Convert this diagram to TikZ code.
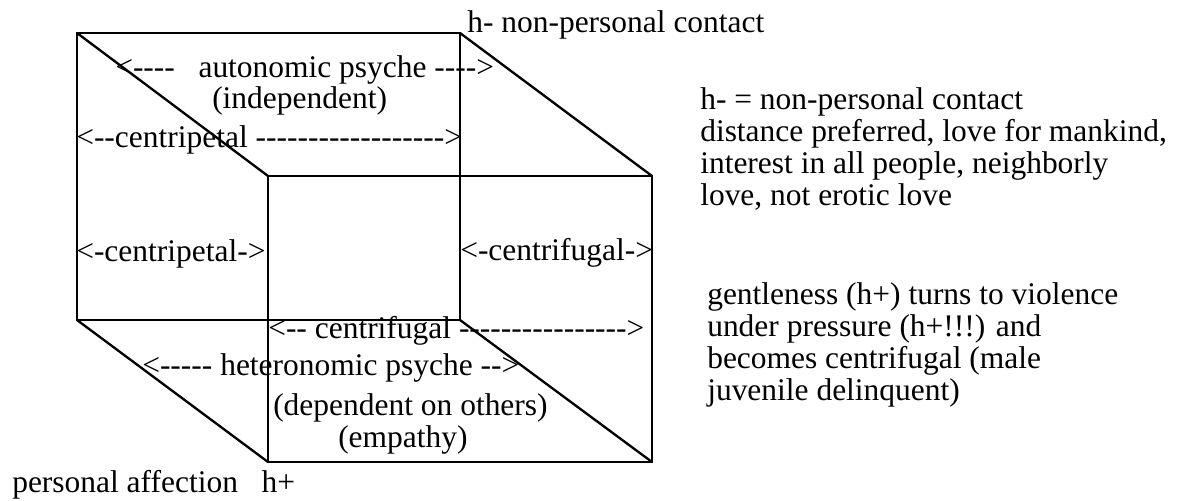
\documentclass[tikz,border=0pt]{standalone}
\usepackage{fontspec}
\setmainfont{Liberation Serif}[Ligatures=TeXOff]
\usetikzlibrary{positioning}
\tikzset{
  kant/.style={line width=1.75pt},
  lab/.style={anchor=base west,inner sep=0pt},
  blokk/.style={anchor=base west,inner sep=0pt,align=left},
}

\begin{document}
\begin{tikzpicture}[x=0.75pt,y=-0.75pt,font=\fontsize{23.6}{24}\selectfont]
  \useasboundingbox (0,0) rectangle (1188,500);
  % back square and front square
  \coordinate (b1) at (77,33);   \coordinate (b2) at (460,33);
  \coordinate (b3) at (460,320); \coordinate (b4) at (77,320);
  \coordinate (f1) at (268,176); \coordinate (f2) at (652,176);
  \coordinate (f3) at (652,462); \coordinate (f4) at (268,462);
  \draw[kant] (b1) -- (b2) -- (b3) -- (b4) -- cycle;
  \draw[kant] (f1) -- (f2) -- (f3) -- (f4) -- cycle;
  \draw[kant] (b1) -- (f1); \draw[kant] (b2) -- (f2);
  \draw[kant] (b3) -- (f3); \draw[kant] (b4) -- (f4);
  % labels on the cube
  \node[lab] (top) at (467,32) {h- non-personal contact};
  \node[lab] (auto) at (115,77) {<----~~~autonomic psyche ---->};
  \node[lab] (indep) at (212,108) {(independent)};
  \node[lab] (cpet1) at (76,147) {<--centripetal ------------------>};
  \node[lab] (cpet2) at (76,261) {<-centripetal->};
  \node[lab] (cfug1) at (460,260) {<-centrifugal->};
  \node[lab] (cfug2) at (268,338) {<-- centrifugal ---------------->};
  \node[lab] (hetero) at (142,375) {<----- heteronomic psyche -->};
  \node[lab] (dep) at (273,415) {(dependent on others)};
  \node[lab] (emp) at (338,447) {(empathy)};
  \node[lab] (aff) at (12,492) {personal affection~~~h+};
  % notes on the right (base = last line)
  \node[blokk] (note1) at (700,205) {h- = non-personal contact\\
    distance preferred, love for mankind,\\
    interest in all people, neighborly\\
    love, not erotic love};
  \node[blokk] (note2) at (707,400) {gentleness (h+) turns to violence\\
    under pressure (h+!!!) and\\
    becomes centrifugal (male\\
    juvenile delinquent)};
\end{tikzpicture}
\end{document}
